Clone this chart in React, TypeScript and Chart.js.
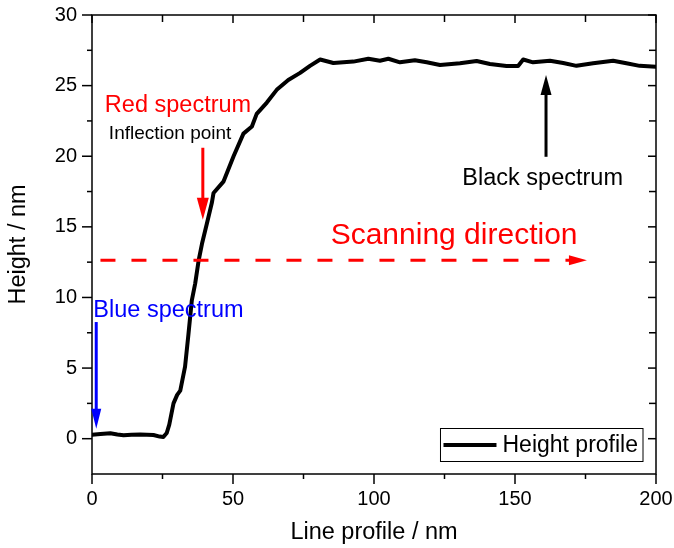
import React, { useEffect, useRef } from "react";
import { Chart, registerables } from "chart.js";

Chart.register(...registerables);

// ---- data ----
const linePositions = [
  0, 3, 6.5, 9, 11.2, 14, 17.1, 21.8, 24, 25.3, 26.5, 27.4, 28.9, 30.2, 31.3, 33.0, 34.2, 35.4,
  36.6, 37.8, 39.0, 40.7, 42.5, 43.1, 46.6, 50.2, 53.7, 56.7, 58.4, 62.0, 65.5, 69.6, 73.8,
  77.3, 80.9, 85.6, 92.7, 98.0, 102.1, 105.1, 109.2, 114.5, 118.7, 123.4, 130.5, 136.4,
  141.1, 147.0, 151.1, 152.9, 156.4, 162.4, 167.1, 171.8, 177.7, 184.8, 189.5, 194.2, 200,
];
const heights = [
  0.28, 0.33, 0.38, 0.3, 0.24, 0.28, 0.3, 0.26, 0.15, 0.12, 0.4, 1.0, 2.5, 3.1, 3.4, 5.1, 7.4, 9.8,
  11.0, 12.6, 13.8, 15.2, 16.7, 17.4, 18.2, 20.0, 21.6, 22.1, 23.0, 23.8, 24.7, 25.4, 25.9,
  26.4, 26.85, 26.6, 26.7, 26.9, 26.76, 26.9, 26.65, 26.8, 26.65, 26.46, 26.58, 26.74,
  26.53, 26.39, 26.39, 26.85, 26.65, 26.76, 26.6, 26.4, 26.58, 26.76, 26.58, 26.4, 26.33,
];
const seriesLabel = "Height profile";

const xMajorTicks = [0, 50, 100, 150, 200];
const xMinorTicks = [25, 75, 125, 175];
const yMajorTicks = [0, 5, 10, 15, 20, 25, 30];
const yMinorTicks = [2.5, 7.5, 12.5, 17.5, 22.5, 27.5];

const noteTexts = ["Red spectrum", "Inflection point", "Blue spectrum", "Black spectrum", "Scanning direction"];
const noteX = [30.5, 27.7, 27.1, 159.8, 128.4];
const noteY = [23.13, 21.21, 8.62, 17.95, 13.82];

// arrows: start (x,y) -> tip (x,y)
const arrowStartX = [39.3, 1.5, 161, 3.0];
const arrowStartY = [20.6, 8.26, 19.96, 12.63];
const arrowTipX = [39.3, 1.5, 161, 175.5];
const arrowTipY = [15.5, 0.71, 25.75, 12.63];

// ---- styles ----
const FONT = "'Liberation Sans', Arial, sans-serif";
const noteColors = ["#ff0000", "#000000", "#0000ff", "#000000", "#ff0000"];
const noteSizes = [23.5, 19, 23.5, 23.5, 30];
const arrowColors = ["#ff0000", "#0000ff", "#000000", "#ff0000"];
const arrowDashed = [false, false, false, true];
const arrowHeadLen = [22, 20, 20, 18];
const arrowHeadW = [12, 10, 11, 10];

const zeroPad = (s: any) => {
  s.paddingLeft = 0;
  s.paddingRight = 0;
  s.paddingTop = 0;
  s.paddingBottom = 0;
};

const decorPlugin = {
  id: "decor",
  afterDatasetsDraw(chart: any) {
    const { ctx, chartArea: a, scales } = chart;
    const xs = scales.x;
    const ys = scales.y;
    ctx.save();
    // frame
    ctx.strokeStyle = "#000";
    ctx.lineWidth = 1.5;
    ctx.strokeRect(a.left, a.top, a.right - a.left, a.bottom - a.top);
    // ticks
    const tick = (x1: number, y1: number, x2: number, y2: number) => {
      ctx.beginPath();
      ctx.moveTo(x1, y1);
      ctx.lineTo(x2, y2);
      ctx.stroke();
    };
    ctx.lineWidth = 1.5;
    xMajorTicks.forEach((v) => {
      const p = xs.getPixelForValue(v);
      tick(p, a.bottom, p, a.bottom + 10);
      tick(p, a.top, p, a.top + 8);
    });
    xMinorTicks.forEach((v) => {
      const p = xs.getPixelForValue(v);
      tick(p, a.bottom, p, a.bottom + 5);
      tick(p, a.top, p, a.top + 7);
    });
    yMajorTicks.forEach((v) => {
      const p = ys.getPixelForValue(v);
      tick(a.left - 10, p, a.left, p);
      tick(a.right - 8, p, a.right, p);
    });
    yMinorTicks.forEach((v) => {
      const p = ys.getPixelForValue(v);
      tick(a.left - 5, p, a.left, p);
      tick(a.right - 7, p, a.right, p);
    });

    // arrows
    arrowStartX.forEach((_, i) => {
      const x1 = xs.getPixelForValue(arrowStartX[i]);
      const y1 = ys.getPixelForValue(arrowStartY[i]);
      const x2 = xs.getPixelForValue(arrowTipX[i]);
      const y2 = ys.getPixelForValue(arrowTipY[i]);
      const len = Math.hypot(x2 - x1, y2 - y1);
      const ux = (x2 - x1) / len;
      const uy = (y2 - y1) / len;
      const hl = arrowHeadLen[i];
      const hw = arrowHeadW[i];
      ctx.strokeStyle = arrowColors[i];
      ctx.fillStyle = arrowColors[i];
      ctx.lineWidth = 3;
      ctx.setLineDash(arrowDashed[i] ? [15, 16] : []);
      ctx.beginPath();
      ctx.moveTo(x1, y1);
      ctx.lineTo(x2 - ux * (hl - 2), y2 - uy * (hl - 2));
      ctx.stroke();
      ctx.setLineDash([]);
      const bx = x2 - ux * hl;
      const by = y2 - uy * hl;
      ctx.beginPath();
      ctx.moveTo(x2, y2);
      ctx.lineTo(bx - uy * hw / 2, by + ux * hw / 2);
      ctx.lineTo(bx + uy * hw / 2, by - ux * hw / 2);
      ctx.closePath();
      ctx.fill();
    });

    // notes
    ctx.textAlign = "center";
    ctx.textBaseline = "alphabetic";
    noteTexts.forEach((t, i) => {
      ctx.fillStyle = noteColors[i];
      ctx.font = `${noteSizes[i]}px ${FONT}`;
      ctx.fillText(t, xs.getPixelForValue(noteX[i]), ys.getPixelForValue(noteY[i]));
    });

    // legend
    const label = chart.data.datasets[0].label;
    ctx.font = `23px ${FONT}`;
    const tw = ctx.measureText(label).width;
    const boxR = a.right - 13;
    const boxB = a.bottom - 12.5;
    const boxH = 33;
    const boxW = 62 + tw + 5;
    const boxL = boxR - boxW;
    const boxT = boxB - boxH;
    ctx.fillStyle = "#fff";
    ctx.fillRect(boxL, boxT, boxW, boxH);
    ctx.strokeStyle = "#000";
    ctx.lineWidth = 1;
    ctx.strokeRect(boxL, boxT, boxW, boxH);
    ctx.lineWidth = 4;
    tick(boxL + 3, boxT + 16.5, boxL + 56, boxT + 16.5);
    ctx.fillStyle = "#000";
    ctx.textAlign = "left";
    ctx.textBaseline = "middle";
    ctx.fillText(label, boxL + 62, boxT + 17.5);
    ctx.restore();
  },
};

export default function App() {
  const ref = useRef<HTMLCanvasElement | null>(null);
  useEffect(() => {
    if (!ref.current) return;
    const chart = new Chart(ref.current, {
      type: "line",
      data: {
        datasets: [
          {
            label: seriesLabel,
            data: linePositions.map((x, i) => ({ x, y: heights[i] })),
            borderColor: "#000",
            borderWidth: 4,
            pointRadius: 0,
            tension: 0,
            fill: false,
            borderJoinStyle: "round",
            borderCapStyle: "round",
          },
        ],
      },
      options: {
        animation: false,
        responsive: false,
        maintainAspectRatio: false,
        layout: { padding: { top: 15, right: 18, left: 0, bottom: 0 } },
        plugins: { legend: { display: false }, tooltip: { enabled: false } },
        scales: {
          x: {
            type: "linear",
            min: 0,
            max: 200,
            afterFit: (s: any) => {
              s.height = 74;
              zeroPad(s);
            },
            afterBuildTicks: (s: any) => {
              s.ticks = xMajorTicks.map((v) => ({ value: v }));
            },
            grid: { display: false, drawTicks: false },
            border: { display: false },
            ticks: {
              padding: 13,
              color: "#000",
              font: { family: FONT, size: 20 },
              maxRotation: 0,
            },
            title: {
              display: true,
              text: "Line profile / nm",
              color: "#000",
              font: { family: FONT, size: 23.5 },
              padding: { top: 0, bottom: 1 },
            },
          },
          y: {
            type: "linear",
            min: -2.5,
            max: 30,
            afterFit: (s: any) => {
              s.width = 92;
              zeroPad(s);
            },
            afterBuildTicks: (s: any) => {
              s.ticks = yMajorTicks.map((v) => ({ value: v }));
            },
            grid: { display: false, drawTicks: false },
            border: { display: false },
            ticks: {
              padding: 15,
              color: "#000",
              font: { family: FONT, size: 20 },
            },
            title: {
              display: true,
              text: "Height / nm",
              color: "#000",
              font: { family: FONT, size: 23.5 },
              padding: { top: 4, bottom: 0 },
            },
          },
        },
      },
      plugins: [decorPlugin],
    } as any);
    return () => chart.destroy();
  }, []);
  return (
    <div style={{ position: "fixed", left: 0, top: 0, width: 674, height: 548, background: "#fff" }}>
      <canvas ref={ref} width={674} height={548} style={{ display: "block" }} />
    </div>
  );
}
